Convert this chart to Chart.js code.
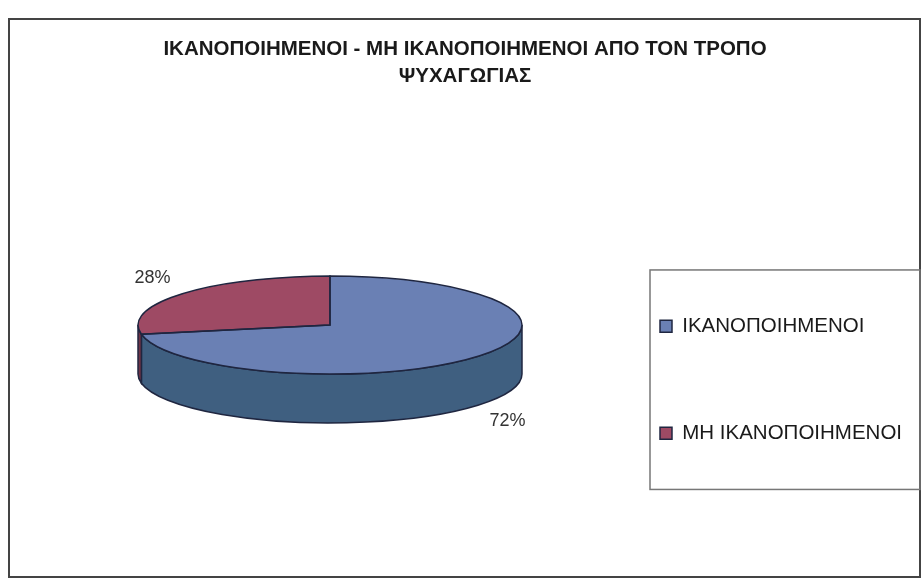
<!DOCTYPE html>
<html>
<head>
<meta charset="utf-8">
<script src="https://cdn.jsdelivr.net/npm/chart.js@4"></script>
<style>
html, body { margin: 0; padding: 0; background: #fff; }
</style>
</head>
<body>
<canvas id="myChart" width="924" height="578"></canvas>
<script>
// data
const labels = ["ΙΚΑΝΟΠΟΙΗΜΕΝΟΙ", "ΜΗ ΙΚΑΝΟΠΟΙΗΜΕΝΟΙ"];
const values = [72, 28];
const titleLines = ["ΙΚΑΝΟΠΟΙΗΜΕΝΟΙ - ΜΗ ΙΚΑΝΟΠΟΙΗΜΕΝΟΙ ΑΠΟ ΤΟΝ ΤΡΟΠΟ", "ΨΥΧΑΓΩΓΙΑΣ"];

// colours
const topColors = ["#6a80b4", "#9e4a64"];
const sideColors = ["#3f5f80", "#6e3346"];
const OUTLINE = "#1f2640";
const FONT = "'Liberation Sans', Arial, sans-serif";

// tilt of the fake 3d pie (vertical squash), also used for its thickness
const TILT = 0.255;

function visibleParts(s, e) {
    // parts of [s,e] that lie on the front half (0..PI)
    const parts = [];
    for (let k = -1; k <= 1; k++) {
        const lo = Math.max(s + k * 2 * Math.PI, 0);
        const hi = Math.min(e + k * 2 * Math.PI, Math.PI);
        if (hi > lo) parts.push([lo, hi]);
    }
    return parts;
}

const pie3d = {
    id: "pie3d",
    afterLayout(chart) {
        // let the legend text run past the narrow legend box
        chart.legend.right = chart.width;
    },
    beforeDraw(chart) {
        const ctx = chart.ctx;
        ctx.save();
        ctx.fillStyle = "#fff";
        ctx.fillRect(0, 0, chart.width, chart.height);
        ctx.strokeStyle = "#444";
        ctx.lineWidth = 2;
        ctx.strokeRect(9, 19, 911, 558);
        ctx.restore();
    },
    beforeDatasetsDraw(chart) {
        const ctx = chart.ctx;
        const meta = chart.getDatasetMeta(0);
        const a0 = meta.data[0];
        const cx = a0.x, cy = a0.y;
        const rx = a0.outerRadius, ry = rx * TILT, depth = rx * TILT;

        // side wall
        ctx.save();
        ctx.lineWidth = 1.5;
        ctx.strokeStyle = OUTLINE;
        meta.data.forEach((arc, i) => {
            visibleParts(arc.startAngle, arc.endAngle).forEach(([lo, hi]) => {
                ctx.beginPath();
                ctx.ellipse(cx, cy, rx, ry, 0, lo, hi);
                ctx.ellipse(cx, cy + depth, rx, ry, 0, hi, lo, true);
                ctx.closePath();
                ctx.fillStyle = sideColors[i];
                ctx.fill();
                ctx.stroke();
            });
        });
        ctx.restore();

        // squash the library's own pie into the top face
        ctx.save();
        ctx.translate(cx, cy);
        ctx.scale(1, TILT);
        ctx.translate(-cx, -cy);
    },
    afterDatasetsDraw(chart) {
        const ctx = chart.ctx;
        ctx.restore();

        const meta = chart.getDatasetMeta(0);
        const total = values.reduce((a, b) => a + b, 0);

        ctx.save();
        ctx.lineWidth = 1.5;
        ctx.strokeStyle = OUTLINE;
        meta.data.forEach((arc) => {
            const rx = arc.outerRadius, ry = rx * TILT;
            ctx.beginPath();
            ctx.moveTo(arc.x, arc.y);
            ctx.ellipse(arc.x, arc.y, rx, ry, 0, arc.startAngle, arc.endAngle);
            ctx.closePath();
            ctx.stroke();
        });

        // percentage labels
        ctx.fillStyle = "#333";
        ctx.font = "18px " + FONT;
        ctx.textAlign = "center";
        ctx.textBaseline = "middle";
        meta.data.forEach((arc, i) => {
            const mid = (arc.startAngle + arc.endAngle) / 2;
            const rx = arc.outerRadius, ry = rx * TILT, depth = rx * TILT;
            const x = arc.x + Math.cos(mid) * rx * 1.2;
            let y = arc.y + Math.sin(mid) * ry * 1.5;
            if (Math.sin(mid) > 0) y += depth;
            ctx.fillText(Math.round(values[i] / total * 100) + "%", x, y);
        });
        ctx.restore();
    },
    afterDraw(chart) {
        // border round the legend
        const boxes = chart.legend.legendHitBoxes;
        if (!boxes || !boxes.length) return;
        const first = boxes[0], last = boxes[boxes.length - 1];
        const left = first.left - 10, top = first.top - 46;
        const ctx = chart.ctx;
        ctx.save();
        ctx.strokeStyle = "#777";
        ctx.lineWidth = 1.5;
        ctx.strokeRect(left, top, chart.width - 4 - left, last.top + last.height + 46 - top);
        ctx.restore();
    }
};

new Chart(document.getElementById("myChart"), {
    type: "pie",
    data: {
        labels: labels,
        datasets: [{
            data: values,
            backgroundColor: topColors,
            borderWidth: 0,
            radius: "83.5%",
            clip: false
        }]
    },
    options: {
        responsive: false,
        animation: false,
        events: [],
        layout: {
            padding: { left: 86.5, right: 80.5, top: 0, bottom: 23 }
        },
        plugins: {
            title: {
                display: true,
                text: titleLines,
                color: "#1a1a1a",
                font: { family: FONT, size: 20.5, weight: "bold", lineHeight: 1.32 },
                padding: { top: 36, bottom: 5 }
            },
            legend: {
                position: "right",
                maxWidth: 270,
                title: {
                    display: true,
                    text: "",
                    font: { size: 12 },
                    padding: { top: 190, bottom: 0 }
                },
                labels: {
                    color: "#1a1a1a",
                    font: { family: FONT, size: 20.5 },
                    boxWidth: 12,
                    boxHeight: 12,
                    padding: 86.5,
                    generateLabels(chart) {
                        const items = Chart.overrides.pie.plugins.legend.labels.generateLabels(chart);
                        items.forEach((it) => {
                            it.strokeStyle = OUTLINE;
                            it.lineWidth = 1.5;
                        });
                        return items;
                    }
                }
            },
            tooltip: { enabled: false }
        }
    },
    plugins: [pie3d]
});
</script>
</body>
</html>
